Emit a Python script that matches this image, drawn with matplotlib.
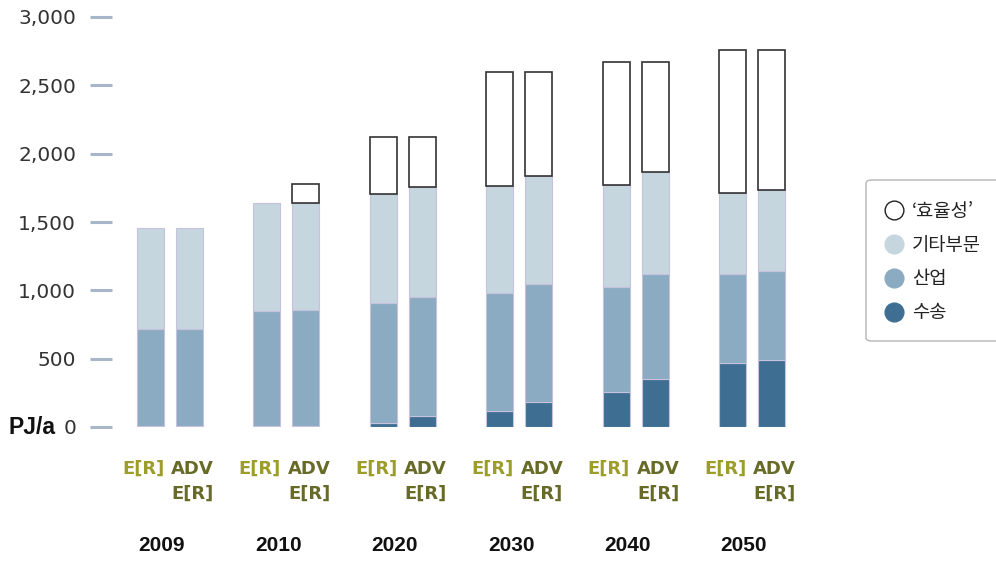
import matplotlib.pyplot as plt
import numpy as np
from matplotlib.lines import Line2D
from matplotlib.patches import FancyBboxPatch
from matplotlib import transforms

plt.rcParams["font.family"] = ["DejaVu Sans", "Noto Sans CJK KR"]

years = ["2009", "2010", "2020", "2030", "2040", "2050"]

# PJ/a, stacked from bottom: transport, industry, other sectors, 'efficiency'
transport_er = [5, 5, 31, 119, 254, 466]
industry_er = [712, 844, 874, 859, 773, 654]
other_er = [739, 790, 800, 788, 741, 592]
efficiency_er = [0, 0, 415, 832, 903, 1046]

transport_adv = [5, 8, 80, 185, 351, 490]
industry_adv = [712, 848, 873, 859, 771, 649]
other_adv = [739, 783, 805, 795, 742, 595]
efficiency_adv = [0, 139, 362, 759, 807, 1024]

legend_labels = ["‘효율성’", "기타부문", "산업", "수송"]

C_TRANSPORT = "#3e6f92"
C_INDUSTRY = "#8aabc1"
C_OTHER = "#c5d6df"
C_EDGE = "#c6c2de"
C_EFF_EDGE = "#333333"
C_ER = "#9c9d2b"
C_ADV = "#676b27"

fig = plt.figure(figsize=(9.96, 5.61), dpi=100)
ax = fig.add_axes([90 / 996, 134 / 561, 770 / 996, 410 / 561])

x = np.arange(len(years))
offset = 0.1675
width = 0.232


def draw_stack(xpos, transport, industry, other, efficiency):
    transport = np.array(transport)
    industry = np.array(industry)
    other = np.array(other)
    efficiency = np.array(efficiency)
    ax.bar(xpos, transport, width, color=C_TRANSPORT, edgecolor=C_EDGE, linewidth=0.8)
    ax.bar(xpos, industry, width, bottom=transport, color=C_INDUSTRY,
           edgecolor=C_EDGE, linewidth=0.8)
    base = transport + industry
    ax.bar(xpos, other, width, bottom=base, color=C_OTHER, edgecolor=C_EDGE, linewidth=0.8)
    base = base + other
    mask = efficiency > 0
    ax.bar(xpos[mask], efficiency[mask], width, bottom=base[mask], color="white",
           edgecolor=C_EFF_EDGE, linewidth=1.2)


draw_stack(x - offset, transport_er, industry_er, other_er, efficiency_er)
draw_stack(x + offset, transport_adv, industry_adv, other_adv, efficiency_adv)

ax.set_xlim(-0.687, 5.928)
ax.set_ylim(0, 3000)
ax.set_yticks(np.arange(0, 3001, 500))
ax.set_yticklabels([f"{v:,}" for v in range(0, 3001, 500)])
ax.tick_params(axis="y", direction="in", length=15.8, width=2.2, color="#a9b6c9",
               pad=10, labelsize=14.5, labelcolor="#333333")
ax.tick_params(axis="x", bottom=False, labelbottom=False)
for s in ax.spines.values():
    s.set_visible(False)

fig.text(8 / 996, 134 / 561, "PJ/a", fontsize=16.5, fontweight="bold",
         family="Liberation Sans", va="center", ha="left", color="#111111")

# scenario and year labels under the bars
trans = transforms.blended_transform_factory(ax.transData, fig.transFigure)
for i, yr in enumerate(years):
    ax.text(x[i] - 0.23, 0.164, "E[R]", transform=trans, ha="center", va="center",
            fontsize=13, fontweight="bold", color=C_ER)
    ax.text(x[i] + 0.195, 0.164, "ADV", transform=trans, ha="center", va="center",
            fontsize=13, fontweight="bold", color=C_ADV)
    ax.text(x[i] + 0.195, 0.119, "E[R]", transform=trans, ha="center", va="center",
            fontsize=13, fontweight="bold", color=C_ADV)
    ax.text(x[i] - 0.07, 0.027, yr, transform=trans, ha="center", va="center",
            fontsize=15, fontweight="bold", family="Liberation Sans", color="#111111")

# legend box, running off the right edge
box = FancyBboxPatch((866 / 996, 220 / 561), 150 / 996, 161 / 561,
                     boxstyle="round,pad=0,rounding_size=0.006",
                     transform=fig.transFigure, facecolor="white",
                     edgecolor="#b5b5b5", linewidth=1)
fig.patches.append(box)

handles = [
    Line2D([], [], marker="o", ls="", markersize=13.5, markerfacecolor="white",
           markeredgecolor="#222222", markeredgewidth=1),
    Line2D([], [], marker="o", ls="", markersize=13.5, markerfacecolor=C_OTHER,
           markeredgecolor=C_OTHER),
    Line2D([], [], marker="o", ls="", markersize=13.5, markerfacecolor=C_INDUSTRY,
           markeredgecolor=C_INDUSTRY),
    Line2D([], [], marker="o", ls="", markersize=13.5, markerfacecolor=C_TRANSPORT,
           markeredgecolor=C_TRANSPORT),
]
leg = fig.legend(handles, legend_labels, loc="center left",
                 bbox_to_anchor=(874 / 996, 299 / 561), frameon=False,
                 borderpad=0, handlelength=1.1, handletextpad=0.42,
                 labelspacing=0.68,
                 prop={"family": ["Noto Sans CJK KR", "DejaVu Sans"], "size": 13.5})
for t in leg.get_texts():
    t.set_color("#222222")

fig.savefig("out.png", dpi=100)
